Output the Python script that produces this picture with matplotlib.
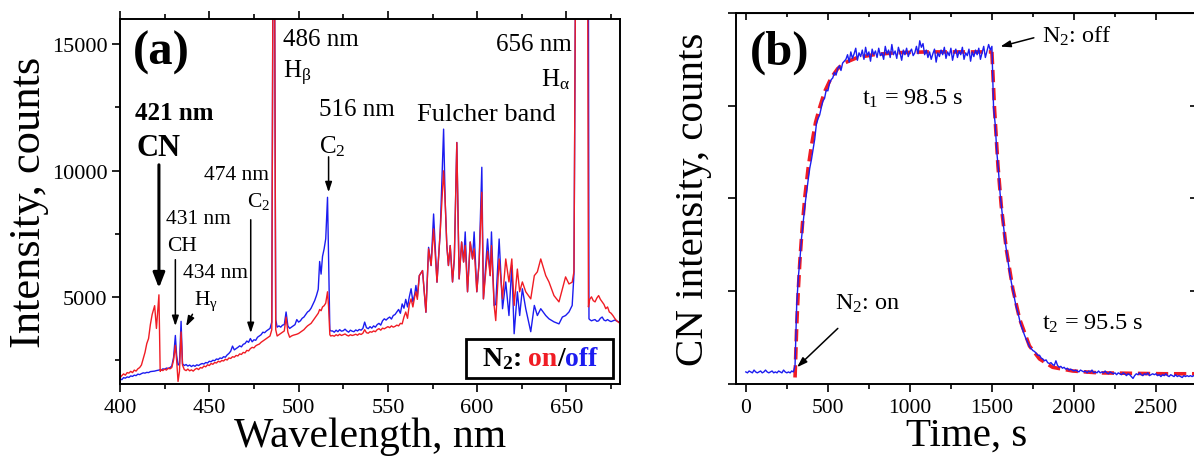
import numpy as np
import matplotlib
matplotlib.use("Agg")
import matplotlib.pyplot as plt
from matplotlib.ticker import MultipleLocator
from matplotlib.patches import Rectangle
from matplotlib.offsetbox import TextArea, HPacker, AnchoredOffsetbox

plt.rcParams['font.family'] = ['Liberation Serif', 'DejaVu Serif']
plt.rcParams['mathtext.fontset'] = 'custom'
plt.rcParams['mathtext.rm'] = 'Liberation Serif'
plt.rcParams['mathtext.it'] = 'Liberation Serif:italic'
plt.rcParams['mathtext.bf'] = 'Liberation Serif:bold'
plt.rcParams['mathtext.default'] = 'regular'

RED = '#f01c24'
BLUE = '#1c1cf0'

#-- (a) spectrum, N2 on (red) / off (blue)
wavelength = [
    400, 401, 402, 403, 404, 405, 406, 407, 408, 409, 410, 411, 412,
    413, 414, 415, 416, 417, 418, 419.4, 420.4, 421.8, 422.5, 423, 424, 425, 426, 427, 428, 429,
    430, 431, 431.7, 432.5, 433.3, 434.2, 435, 436, 437, 438, 439, 440, 441, 442, 443, 444,
    445, 446, 447, 448, 449, 450, 451, 452, 453, 454, 455, 456, 457, 458, 459,
    460, 461, 462, 463, 464, 465, 466, 467, 468, 469, 470, 471, 472, 473, 474,
    475, 476, 477, 478, 479, 480, 481, 482, 483, 484, 485, 485.6, 486.6, 487.2, 488, 489,
    490, 491, 492, 493, 494, 495, 496, 497, 498, 499, 500, 501, 502, 503, 504,
    505, 506, 507, 508, 509, 510, 511, 511.8, 512.6, 513.4, 514.3, 515.2, 516.2, 516.8, 517.5, 518,
    519, 520, 521, 522, 523, 524, 525, 526, 527, 528, 529, 530, 531, 532, 533, 534,
    535, 536, 537, 538, 539, 540, 541, 542, 543, 544, 545, 546, 547, 548, 549,
    550, 551, 552, 553, 554, 555, 556, 557, 558, 559, 560, 561, 562, 563, 564, 565, 565.7, 566.5,
    567.6, 569.4, 571.3, 572.8, 574.2, 575.6, 577.5, 579.3, 581.2, 582.1, 583, 583.9, 584.9,
    586.2, 587.2, 588.6, 589.9, 591.3, 592.4, 593.3, 594.6, 596.1, 597.4, 598.3, 599.8,
    601.1, 602.6, 603.5, 605.8, 607.3, 608, 609.5, 610.4, 612.3, 614.2, 616, 617.8, 619.4,
    620.7, 622.5, 623.8, 625.3, 627.2, 630, 632, 633.7, 635.6, 638.4, 640.2, 643, 645.8,
    647.7, 649.5, 651.4, 653.2, 654.2, 655, 661.9, 662.3, 662.6, 663, 664, 665, 666, 667,
    668, 669, 670, 671, 672, 673, 674, 675, 676, 677, 678, 679, 680]

spec_off = [
    1760, 1720, 1800, 1780, 1830, 1810, 1870, 1850, 1900, 1880, 1940, 1920, 1960,
    1990, 1980, 2010, 2000, 2040, 2050, 2060, 2080, 2100, 2120, 2090, 2150, 2130, 2180, 2160, 2200, 2260,
    2600, 3470, 2700, 2300, 2350, 4030, 2350, 2280, 2320, 2260, 2300, 2240, 2290, 2250, 2310, 2280,
    2330, 2360, 2340, 2400, 2380, 2450, 2430, 2490, 2470, 2540, 2520, 2580, 2560, 2630, 2610,
    2700, 2760, 2850, 3050, 2900, 2950, 3000, 3060, 3020, 3120, 3150, 3250, 3200, 3350, 3220,
    3300, 3280, 3400, 3450, 3500, 3600, 3580, 3650, 3700, 3750, 4000, 17000, 17000, 4100, 3800, 3850,
    3800, 3880, 3900, 4400, 3850, 3750, 3800, 3850, 3900, 4100, 4000, 4050, 4150, 4200, 4300,
    4400, 4450, 4550, 4700, 4850, 5050, 5300, 6400, 5900, 6600, 6900, 7300, 8940, 6500, 3700, 3650,
    3650, 3600, 3680, 3620, 3700, 3640, 3660, 3720, 3650, 3600, 3680, 3640, 3620, 3690, 3650, 3710,
    3680, 3750, 4000, 3780, 3740, 3820, 3760, 3850, 3800, 3900, 3950, 3880, 4050, 4130, 4080,
    4150, 4200, 4120, 4260, 4300, 4400, 4500, 4350, 4720, 4550, 4900, 4600, 5000, 5320, 4800, 5100, 5450, 5000,
    5840, 6040, 4390, 6960, 6240, 8280, 5580, 7570, 11640, 8750, 7030, 6240, 7030,
    5590, 6500, 11110, 5710, 7170, 6380, 7570, 5200, 7170, 6500, 7570, 5200,
    6380, 10130, 4920, 7290, 5840, 7570, 4660, 4700, 7290, 4530, 5590, 4260, 6240,
    3540, 5200, 4260, 5320, 4530, 3620, 4660, 4260, 4530, 4260, 4130, 4010, 3930,
    4200, 4260, 4400, 4660, 5900, 17000, 17000, 17000, 4130, 4100, 4050, 4080, 4100, 4030,
    4050, 4150, 4200, 4080, 4050, 4100, 4050, 4020, 4050, 4080, 4050, 4020, 4000]

spec_on = [
    1800, 1880, 1950, 1900, 2000, 1980, 2050, 2000, 2100, 2060, 2150, 2200, 2300,
    2550, 2800, 3150, 3350, 3900, 4300, 4650, 3750, 5080, 2050, 2120, 2080, 2140, 2100, 2180, 2150, 2200,
    2500, 3080, 2500, 1650, 2050, 3610, 2300, 2120, 2080, 2140, 2070, 2110, 2060, 2130, 2170, 2120,
    2200, 2180, 2260, 2230, 2310, 2280, 2360, 2330, 2400, 2380, 2450, 2420, 2480, 2460, 2530,
    2500, 2580, 2560, 2630, 2610, 2680, 2660, 2740, 2720, 2800, 2780, 2880, 2860, 2950, 3000,
    2980, 3060, 3100, 3130, 3200, 3250, 3300, 3350, 3400, 3450, 3700, 17000, 17000, 3700, 3450, 3500,
    3550, 3600, 3650, 4200, 3600, 3400, 3450, 3480, 3500, 3520, 3550, 3600, 3650, 3700, 3780,
    3850, 3900, 3950, 4050, 4150, 4250, 4350, 4500, 4450, 4600, 4650, 4750, 5200, 4600, 3500, 3450,
    3470, 3440, 3500, 3460, 3520, 3470, 3500, 3530, 3480, 3450, 3500, 3470, 3490, 3520, 3480, 3540,
    3510, 3560, 3700, 3580, 3560, 3620, 3600, 3650, 3620, 3700, 3740, 3680, 3760, 3735, 3780,
    3820, 3780, 3850, 3800, 3830, 3880, 3850, 3950, 3930, 4200, 4400, 4150, 4700, 4920, 4600, 5000, 5200, 4900,
    5840, 6040, 4390, 6900, 6240, 7690, 5580, 7570, 9990, 8750, 7030, 6240, 7030,
    5590, 6500, 11110, 5710, 7170, 6380, 7030, 5200, 7170, 6500, 6900, 5200,
    6380, 9140, 4920, 6800, 5840, 7030, 4660, 4060, 6500, 4920, 6500, 5590, 6500,
    4660, 6100, 5200, 5590, 5200, 4920, 5840, 5990, 6500, 5840, 5590, 5050, 4800,
    5300, 5790, 5510, 5580, 6000, 17000, 17000, 4600, 4720, 4900, 5000, 4850, 4800, 4950,
    5050, 4900, 4800, 4700, 4530, 4600, 4400, 4350, 4260, 4150, 4060, 4000, 3950]

#-- (b) CN intensity vs time, sampled every 10 s (arb. units)
t_step = 10
cn_base = [0.13, 0.12, 0.14, 0.13, 0.12, 0.15, 0.13, 0.12, 0.13, 0.14,
           0.12, 0.13, 0.15, 0.13, 0.12, 0.13, 0.14, 0.12, 0.13, 0.12,
           0.14, 0.13, 0.12, 0.15, 0.13, 0.12, 0.13, 0.12, 0.14, 0.13]          # 0..290 s
cn_rise = [0.20, 0.85, 1.15, 1.35, 1.58, 1.75, 1.92, 2.06, 2.20, 2.33,
           2.42, 2.53, 2.64, 2.80, 2.86, 2.90, 2.98, 3.05, 3.08, 3.17,
           3.16, 3.24, 3.28, 3.30, 3.36, 3.33, 3.40, 3.43, 3.38, 3.46, 3.48]    # 300..600 s
cn_plateau = [3.50, 3.55, 3.47, 3.58, 3.51, 3.56, 3.62, 3.49, 3.57, 3.53,
              3.60, 3.50, 3.63, 3.54, 3.58, 3.48, 3.61, 3.55, 3.59, 3.52,
              3.62, 3.54, 3.57, 3.50, 3.64, 3.56, 3.60, 3.52, 3.66, 3.55,
              3.59, 3.51, 3.63, 3.57, 3.49, 3.60, 3.55, 3.62, 3.53, 3.58,
              3.61, 3.54, 3.57, 3.64, 3.56, 3.70, 3.63, 3.67, 3.55, 3.60,
              3.52, 3.58, 3.50, 3.56, 3.61, 3.47, 3.57, 3.53, 3.60, 3.55,
              3.63, 3.51, 3.58, 3.54, 3.62, 3.49, 3.57, 3.61, 3.52, 3.59,
              3.55, 3.63, 3.50, 3.57, 3.54, 3.61, 3.48, 3.58, 3.53, 3.60,
              3.55, 3.62, 3.50, 3.57, 3.64, 3.52, 3.59, 3.66, 3.60, 3.64]       # 610..1500 s
cn_decay = [2.98, 2.80, 2.50, 2.30, 2.05, 1.88, 1.72, 1.55, 1.42, 1.30,
            1.18, 1.08, 1.00, 0.90, 0.82, 0.76, 0.68, 0.62, 0.57, 0.52,
            0.48, 0.44, 0.40]                                                   # 1510..1730 s
cn_tail = [0.38, 0.36, 0.35, 0.33, 0.31, 0.31, 0.28, 0.27, 0.25, 0.26,
           0.23, 0.22, 0.23, 0.21, 0.20, 0.25, 0.20, 0.18, 0.19, 0.17,
           0.18, 0.16, 0.17, 0.15, 0.16, 0.15, 0.14, 0.15, 0.14, 0.13,
           0.15, 0.14, 0.13, 0.14, 0.12, 0.14, 0.13, 0.15, 0.12, 0.13,
           0.12, 0.14, 0.12, 0.13, 0.12, 0.14, 0.12, 0.11, 0.13, 0.12,
           0.11, 0.12, 0.10, 0.12, 0.11, 0.10, 0.12, 0.11, 0.09, 0.11,
           0.10, 0.08, 0.06, 0.09, 0.11, 0.10, 0.12, 0.10, 0.09, 0.11,
           0.10, 0.12, 0.09, 0.10, 0.11, 0.10, 0.11, 0.09, 0.10, 0.08,
           0.10, 0.09, 0.11, 0.09, 0.08, 0.10, 0.09, 0.08, 0.10, 0.08,
           0.09, 0.08, 0.07, 0.09, 0.08, 0.09, 0.08, 0.09, 0.08, 0.09,
           0.08, 0.09]                                                          # 1740..2750 s
seg_start = [0, 300, 610, 1510, 1740]

fit_on_t = [300, 310, 320, 330, 345, 360, 380, 400, 425, 450, 480, 520, 560, 600,
            680, 780, 900, 1100, 1300, 1500]
fit_on_y = [0.07, 0.62, 1.02, 1.34, 1.72, 2.02, 2.33, 2.57, 2.82, 2.98, 3.15, 3.30, 3.40, 3.46,
            3.52, 3.55, 3.57, 3.58, 3.58, 3.58]
fit_off_t = [1500, 1516, 1537, 1557, 1588, 1628, 1669, 1729, 1790, 1870, 1992, 2150, 2350, 2550, 2750]
fit_off_y = [3.58, 2.96, 2.35, 1.92, 1.45, 1.02, 0.70, 0.41, 0.27, 0.18, 0.14, 0.12, 0.115, 0.11, 0.11]


fig = plt.figure(figsize=(11.94, 4.64), dpi=100)

#== panel (a)
ax1 = fig.add_axes([0.1005, 0.1703, 0.4188, 0.7866])
ax1.plot(wavelength, spec_off, color=BLUE, lw=1.0)
ax1.plot(wavelength, spec_on, color=RED, lw=1.0)
ax1.set_xlim(400, 680)
ax1.set_ylim(1550, 16000)
ax1.xaxis.set_major_locator(MultipleLocator(50))
ax1.xaxis.set_minor_locator(MultipleLocator(25))
ax1.set_yticks([5000, 10000, 15000])
ax1.yaxis.set_minor_locator(MultipleLocator(2500))
ax1.tick_params(which='both', direction='out', top=True, right=False, width=1.2, labelsize=16)
ax1.tick_params(which='major', length=6)
ax1.tick_params(which='minor', length=3.5)
ax1.tick_params(axis='x', pad=4)
ax1.tick_params(axis='y', pad=3)
for sp in ax1.spines.values():
    sp.set_linewidth(1.4)
ax1.set_xlabel('Wavelength, nm', fontsize=30, labelpad=0)
ax1.set_ylabel('Intensity, counts', fontsize=32, labelpad=2)

ax1.text(407.3, 14700, '(a)', fontsize=35, fontweight='bold', va='center')
ax1.text(408.4, 12313, '421 nm', fontsize=18, fontweight='bold', va='center')
ax1.text(409.5, 10930, 'CN', fontsize=22, fontweight='bold', va='center')
ax1.annotate('', xy=(421.8, 5237), xytext=(421.8, 10337),
             arrowprops=dict(arrowstyle='-|>,head_length=0.9,head_width=0.35', lw=2.2, color='k'))

ax1.text(425.7, 8083, '431 nm', fontsize=15.5, va='center')
ax1.text(426.3, 7016, 'CH', fontsize=15.5, va='center')
ax1.annotate('', xy=(431, 3735), xytext=(431, 6581),
             arrowprops=dict(arrowstyle='-|>,head_length=0.6,head_width=0.2', lw=1.1, color='k'))
ax1.text(435.2, 5949, '434 nm', fontsize=15.5, va='center')
ax1.text(441.3, 4850, r'H$_\gamma$', fontsize=15.5, va='center')
ax1.annotate('', xy=(436.3, 3735), xytext=(441.3, 4407),
             arrowprops=dict(arrowstyle='-|>,head_length=0.6,head_width=0.2', lw=1.1, color='k'))
ax1.text(446.9, 9862, '474 nm', fontsize=15.5, va='center')
ax1.text(471.0, 8800, r'C$_2$', fontsize=15.5, va='center')
ax1.annotate('', xy=(473.2, 3458), xytext=(473.2, 8162),
             arrowprops=dict(arrowstyle='-|>,head_length=0.6,head_width=0.2', lw=1.1, color='k'))
ax1.text(491.0, 15199, '486 nm', fontsize=18, va='center')
ax1.text(491.0, 13900, r'H$_\beta$', fontsize=18, va='center')
ax1.text(511.7, 12432, '516 nm', fontsize=18, va='center')
ax1.text(511.7, 11000, r'C$_2$', fontsize=18, va='center')
ax1.annotate('', xy=(516.8, 9032), xytext=(516.8, 10653),
             arrowprops=dict(arrowstyle='-|>,head_length=0.6,head_width=0.2', lw=1.1, color='k'))
ax1.text(566.5, 12234, 'Fulcher band', fontsize=19, va='center')
ax1.text(610.6, 15000, '656 nm', fontsize=18, va='center')
ax1.text(635.8, 13650, r'H$_\alpha$', fontsize=18, va='center')

#-- N2 on/off key: framed box with coloured words
ax1.add_patch(Rectangle((0.692, 0.016), 0.294, 0.107, transform=ax1.transAxes,
                        fill=True, facecolor='white', edgecolor='k', lw=2.0, zorder=5))
parts = [TextArea(r'N$_\mathbf{2}$:', textprops=dict(fontsize=20, fontweight='bold', color='k')),
         TextArea(' on', textprops=dict(fontsize=20, fontweight='bold', color=RED)),
         TextArea('/', textprops=dict(fontsize=20, fontweight='bold', color='k')),
         TextArea('off', textprops=dict(fontsize=20, fontweight='bold', color=BLUE))]
key = AnchoredOffsetbox(loc='center', child=HPacker(children=parts, align='baseline', pad=0, sep=0),
                        pad=0, borderpad=0, frameon=False,
                        bbox_to_anchor=(0.839, 0.072), bbox_transform=ax1.transAxes)
key.set_zorder(6)
ax1.add_artist(key)

#== panel (b)
ax2 = fig.add_axes([0.6164, 0.1703, 0.3861, 0.7996])
cn_t = np.concatenate([start + t_step * np.arange(len(seg))
                       for start, seg in zip(seg_start, [cn_base, cn_rise, cn_plateau, cn_decay, cn_tail])])
cn_y = np.concatenate([cn_base, cn_rise, cn_plateau, cn_decay, cn_tail])
ax2.plot(fit_on_t, fit_on_y, color=RED, lw=2.6, ls=(0, (3.4, 1.6)))
ax2.plot(fit_off_t, fit_off_y, color=RED, lw=2.6, ls=(0, (3.4, 1.6)))
ax2.plot(cn_t, cn_y, color=BLUE, lw=1.0)
ax2.set_xlim(-60, 2750)
ax2.set_ylim(0, 4)
ax2.xaxis.set_major_locator(MultipleLocator(500))
ax2.xaxis.set_minor_locator(MultipleLocator(250))
ax2.set_yticks([0, 1, 2, 3, 4])
ax2.set_yticklabels([])
ax2.tick_params(which='both', direction='out', top=False, right=False, width=1.2, labelsize=15.5)
ax2.tick_params(which='major', length=6)
ax2.tick_params(which='minor', length=3.5)
ax2.tick_params(axis='x', pad=4)
for sp in ax2.spines.values():
    sp.set_linewidth(1.4)
secx = ax2.secondary_xaxis('top')
secx.xaxis.set_major_locator(MultipleLocator(500))
secx.xaxis.set_minor_locator(MultipleLocator(250))
secx.tick_params(which='both', direction='in', labeltop=False, width=1.2)
secx.tick_params(which='major', length=5)
secx.tick_params(which='minor', length=3)
secy = ax2.secondary_yaxis('right')
secy.set_yticks([1, 2, 3])
secy.tick_params(direction='in', labelright=False, length=5, width=1.2)
ax2.set_xlabel('Time, s', fontsize=29.5, labelpad=0)
ax2.set_ylabel('CN intensity, counts', fontsize=29.5, labelpad=8)

ax2.text(26, 3.58, '(b)', fontsize=35, fontweight='bold', va='center')
ax2.text(1808, 3.76, r'N$_2$: off', fontsize=17.5, va='center')
ax2.annotate('', xy=(1535, 3.63), xytext=(1772, 3.74),
             arrowprops=dict(arrowstyle='-|>,head_length=0.6,head_width=0.2', lw=1.1, color='k'))
ax2.text(707, 3.09, r't$_1$ = 98.5 s', fontsize=17.5, va='center')
ax2.text(543, 0.88, r'N$_2$: on', fontsize=17.5, va='center')
ax2.annotate('', xy=(300, 0.16), xytext=(573, 0.62),
             arrowprops=dict(arrowstyle='-|>,head_length=0.6,head_width=0.2', lw=1.1, color='k'))
ax2.text(1808, 0.66, r't$_2$ = 95.5 s', fontsize=17.5, va='center')

fig.savefig('out.png', dpi=100)
